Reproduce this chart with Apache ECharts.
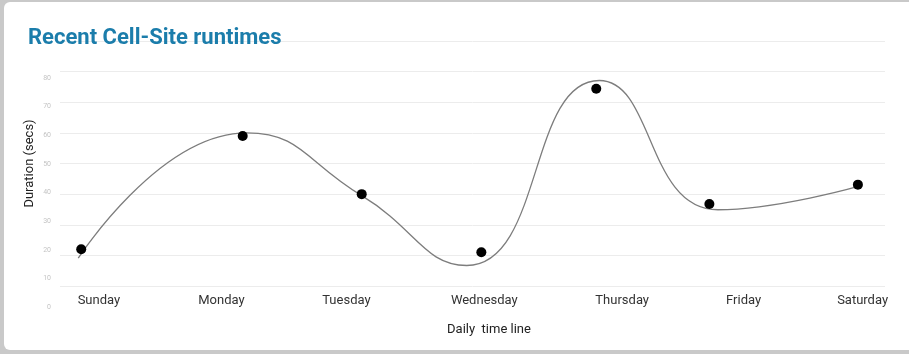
<!DOCTYPE html>
<html>
<head>
<meta charset="utf-8">
<script src="https://cdn.jsdelivr.net/npm/echarts@6/dist/echarts.min.js"></script>
<style>
  html, body { margin: 0; padding: 0; width: 909px; height: 354px; overflow: hidden; background: #c9c9c9; }
  #card { position: absolute; left: 4px; top: 2px; width: 930px; height: 348px; background: #ffffff; border-radius: 6px; }
  #chart { position: absolute; left: 0; top: 0; width: 909px; height: 354px; }
</style>
</head>
<body>
<div id="card"></div>
<div id="chart"></div>
<script>
// Day labels and where they sit on the time axis (in days)
const dayLabels = ['Sunday', 'Monday', 'Tuesday', 'Wednesday', 'Thursday', 'Friday', 'Saturday'];
const labelPositions = [0.33, 1.37, 2.43, 3.60, 4.77, 5.80, 6.81];

// Measured runtimes (points)
const pointTimes = [0.18, 1.55, 2.56, 3.575, 4.55, 5.51, 6.77];
const pointDurations = [22, 59, 40, 21, 74.4, 36.8, 43.1];

// Trend curve: its turning points
const curveTimes = [0.155, 1.584, 2.560, 3.451, 4.576, 5.583, 6.773];
const curveDurations = [19.1, 60.0, 39.5, 16.7, 77.1, 34.9, 42.5];

// Y tick labels
const yTickLabels = [0, 10, 20, 30, 40, 50, 60, 70, 80];

const chart = echarts.init(document.getElementById('chart'), null, { renderer: 'canvas' });
const font = 'Roboto';

chart.setOption({
  backgroundColor: 'transparent',
  animation: false,
  title: {
    text: 'Recent Cell-Site runtimes',
    left: 28,
    top: 27,
    padding: 0,
    textStyle: { fontFamily: font, fontSize: 22, fontWeight: 'bold', color: '#1b7dab' }
  },
  grid: [
    { left: 60, right: 24, top: 41, height: 245 },
    { left: 60, right: 24, top: 78, height: 229 }
  ],
  xAxis: [
    {
      type: 'value', gridIndex: 0, min: 0, max: 7,
      name: 'Daily  time line',
      nameLocation: 'middle',
      nameGap: 37,
      nameTextStyle: { fontFamily: font, fontSize: 13, color: '#222', padding: [0, 0, 0, 33] },
      axisLine: { show: false },
      axisTick: { show: false },
      splitLine: { show: false },
      axisLabel: {
        customValues: labelPositions,
        margin: 8,
        fontFamily: font, fontSize: 13, color: '#333',
        formatter: function (v) {
          const i = labelPositions.indexOf(v);
          return i >= 0 ? dayLabels[i] : '';
        }
      }
    },
    { type: 'value', gridIndex: 1, min: 0, max: 7, show: false }
  ],
  yAxis: [
    {
      type: 'value', gridIndex: 0, min: 10, max: 90, interval: 10,
      name: 'Duration (secs)',
      nameLocation: 'middle',
      nameGap: 24,
      nameTextStyle: { fontFamily: font, fontSize: 13, color: '#222' },
      axisLine: { show: false },
      axisTick: { show: false },
      axisLabel: { show: false },
      splitLine: { show: true, lineStyle: { color: '#ececec', width: 1 } }
    },
    {
      type: 'value', gridIndex: 1, min: 0, max: 80, interval: 10,
      axisLine: { show: false },
      axisTick: { show: false },
      splitLine: { show: false },
      axisLabel: {
        customValues: yTickLabels,
        margin: 9,
        fontFamily: font, fontSize: 7, color: '#c4c4c4'
      }
    }
  ],
  series: [
    {
      type: 'line',
      xAxisIndex: 0, yAxisIndex: 0,
      data: curveTimes.map((t, i) => [t, curveDurations[i]]),
      smooth: true,
      showSymbol: false,
      symbol: 'none',
      lineStyle: { color: '#7d7d7d', width: 1.3 },
      z: 2
    },
    {
      type: 'scatter',
      xAxisIndex: 0, yAxisIndex: 0,
      data: pointTimes.map((t, i) => [t, pointDurations[i]]),
      symbol: 'circle',
      symbolSize: 10,
      itemStyle: { color: '#000000', opacity: 1 },
      z: 3
    }
  ]
});
</script>
</body>
</html>
